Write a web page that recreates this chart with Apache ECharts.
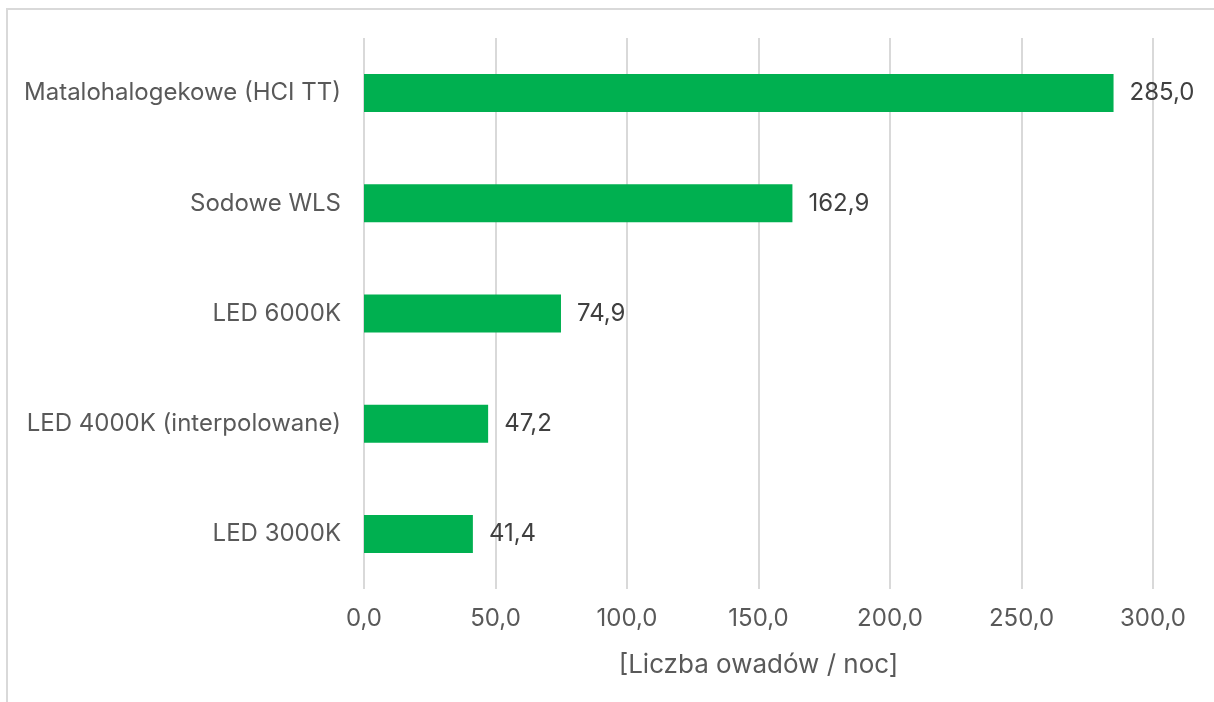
<!DOCTYPE html>
<html>
<head>
<meta charset="utf-8">
<script src="https://cdn.jsdelivr.net/npm/echarts@6/dist/echarts.min.js"></script>
<style>
  html, body { margin: 0; padding: 0; background: #fff; overflow: hidden; }
  #frame { position: absolute; left: 6px; top: 8px; width: 1220px; height: 720px; border: 2px solid #d9d9d9; box-sizing: border-box; }
  #chart { position: absolute; left: 0; top: 0; width: 1214px; height: 702px; }
</style>
</head>
<body>
<div id="frame"></div>
<div id="chart"></div>
<script>
// lamp types, bottom to top
const categories = ['LED 3000K', 'LED 4000K (interpolowane)', 'LED 6000K', 'Sodowe WLS', 'Matalohalogekowe (HCI TT)'];
const values = [41.4, 47.2, 74.9, 162.9, 285.0];
const axisName = '[Liczba owadów / noc]';

const fmt = v => Number(v).toFixed(1).replace('.', ',');

let chart = echarts.init(document.getElementById('chart'));
chart.setOption({
  animation: false,
  textStyle: { fontFamily: 'Inter' },
  grid: { left: 364, right: 61, top: 38, bottom: 113 },
  xAxis: {
    type: 'value',
    min: 0,
    max: 300,
    interval: 50,
    name: axisName,
    nameLocation: 'middle',
    nameGap: 63,
    nameTextStyle: { color: '#595959', fontSize: 26, fontFamily: 'Inter' },
    axisLine: { show: false },
    axisTick: { show: false },
    axisLabel: { color: '#595959', fontSize: 24, margin: 18, formatter: fmt },
    splitLine: { lineStyle: { color: '#d9d9d9', width: 2 } }
  },
  yAxis: {
    type: 'category',
    data: categories,
    axisLine: { show: false },
    axisTick: { show: false },
    axisLabel: { color: '#595959', fontSize: 24, margin: 23 }
  },
  series: [{
    type: 'bar',
    data: values,
    barWidth: 38,
    itemStyle: { color: '#00b050' },
    label: {
      show: true,
      position: 'right',
      distance: 16,
      color: '#404040',
      fontSize: 24,
      formatter: p => fmt(p.value)
    }
  }]
});
</script>
</body>
</html>
